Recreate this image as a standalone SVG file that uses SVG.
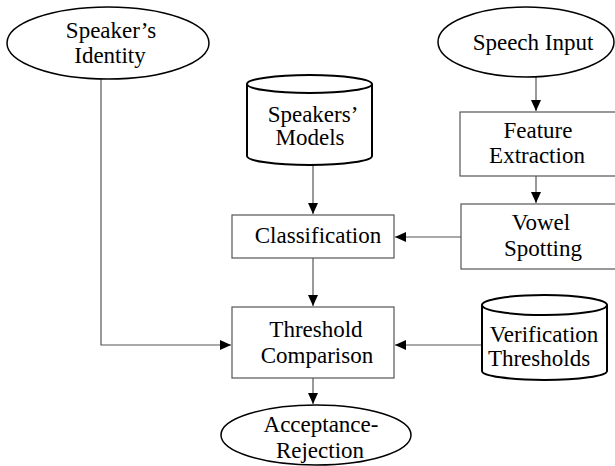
<svg xmlns="http://www.w3.org/2000/svg" width="615" height="466" viewBox="0 0 615 466">
<style>
text{font-family:'Liberation Serif','Times New Roman','DejaVu Serif',serif;font-size:23px;fill:#000;text-anchor:middle}
.box{fill:#fff;stroke:#555;stroke-width:1.2}
.ell{fill:#fff;stroke:#000;stroke-width:1.5}
.cyl{fill:#fff;stroke:#000;stroke-width:2}
.edge{fill:none;stroke:#555;stroke-width:1.2}
</style>
<defs>
<marker id="arr" markerUnits="userSpaceOnUse" markerWidth="12" markerHeight="10" refX="11" refY="5" orient="auto">
<path d="M0,0 L11,5 L0,10 Z" fill="#000"/>
</marker>
</defs>
<g id="connectors">
<path class="edge" d="M101,79 V345 H231" marker-end="url(#arr)"/>
<path class="edge" d="M536,77 V111" marker-end="url(#arr)"/>
<path class="edge" d="M536,176 V203" marker-end="url(#arr)"/>
<path class="edge" d="M461,237 H395" marker-end="url(#arr)"/>
<path class="edge" d="M313,165 V214" marker-end="url(#arr)"/>
<path class="edge" d="M313,258 V306" marker-end="url(#arr)"/>
<path class="edge" d="M482,345 H395" marker-end="url(#arr)"/>
<path class="edge" d="M313,378 V404" marker-end="url(#arr)"/>
</g>
<g id="speakers-identity">
<ellipse class="ell" cx="108" cy="43" rx="101" ry="36"/>
<text x="111" y="38">Speaker’s</text>
<text x="110" y="63">Identity</text>
</g>
<g id="speech-input">
<ellipse class="ell" cx="526" cy="42" rx="88" ry="35"/>
<text x="533" y="50">Speech Input</text>
</g>
<g id="feature-extraction">
<rect class="box" x="460" y="112" width="160" height="64"/>
<text x="538" y="138">Feature</text>
<text x="537" y="163">Extraction</text>
</g>
<g id="vowel-spotting">
<rect class="box" x="461" y="204" width="160" height="65"/>
<text x="541" y="230">Vowel</text>
<text x="543" y="256">Spotting</text>
</g>
<g id="speakers-models">
<path class="cyl" d="M247,84 V156 A62.5,9 0 0 0 372,156 V84"/>
<ellipse class="cyl" cx="309.5" cy="84" rx="62.5" ry="9"/>
<text x="313" y="122">Speakers’</text>
<text x="310" y="145">Models</text>
</g>
<g id="classification">
<rect class="box" x="232" y="215" width="162" height="43"/>
<text x="318" y="243">Classification</text>
</g>
<g id="threshold-comparison">
<rect class="box" x="232" y="307" width="162" height="71"/>
<text x="316" y="337">Threshold</text>
<text x="317" y="363">Comparison</text>
</g>
<g id="verification-thresholds">
<path class="cyl" d="M482,305 V371 A62.5,9 0 0 0 607,371 V305"/>
<ellipse class="cyl" cx="544.5" cy="305" rx="62.5" ry="10"/>
<text x="544" y="342">Verification</text>
<text x="539" y="366">Thresholds</text>
</g>
<g id="acceptance-rejection">
<ellipse class="ell" cx="316" cy="435" rx="95" ry="30"/>
<text x="321" y="432">Acceptance-</text>
<text x="320" y="458">Rejection</text>
</g>
</svg>
